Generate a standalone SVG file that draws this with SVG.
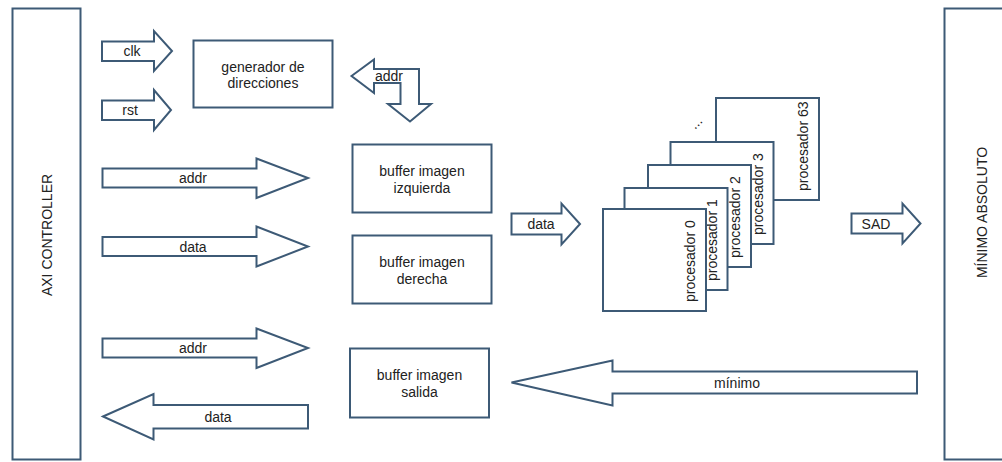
<svg xmlns="http://www.w3.org/2000/svg" width="1002" height="462" viewBox="0 0 1002 462">
  <style>
    .box { fill: #ffffff; stroke: #3d5a76; stroke-width: 2; }
    .arrow { fill: #ffffff; stroke: #3d5a76; stroke-width: 2; stroke-linejoin: miter; }
    text { font-family: "Liberation Sans", Arial, sans-serif; font-size: 14px; fill: #222222; }
    .c { text-anchor: middle; }
  </style>
  <rect x="0" y="0" width="1002" height="462" fill="#ffffff"/>

  <!-- side blocks -->
  <g id="axi-controller">
    <rect class="box" x="12.5" y="8.5" width="68" height="451"/>
    <text class="c" transform="translate(51.5,235) rotate(-90)">AXI CONTROLLER</text>
  </g>
  <g id="minimo-absoluto">
    <rect class="box" x="944.5" y="8.5" width="70" height="451"/>
    <text class="c" transform="translate(986.5,212.5) rotate(-90)">MÍNIMO ABSOLUTO</text>
  </g>

  <!-- functional blocks -->
  <g id="generador">
    <rect class="box" x="193.5" y="40.5" width="139" height="67"/>
    <text class="c" x="263" y="71.5">generador de</text>
    <text class="c" x="263" y="88">direcciones</text>
  </g>
  <g id="buffer-izquierda">
    <rect class="box" x="352.5" y="144.5" width="139" height="68"/>
    <text class="c" x="422" y="176">buffer imagen</text>
    <text class="c" x="422" y="192.5">izquierda</text>
  </g>
  <g id="buffer-derecha">
    <rect class="box" x="352.5" y="235.5" width="139" height="68"/>
    <text class="c" x="422" y="266.5">buffer imagen</text>
    <text class="c" x="422" y="283.5">derecha</text>
  </g>
  <g id="buffer-salida">
    <rect class="box" x="350" y="348.5" width="139" height="69"/>
    <text class="c" x="419.5" y="380">buffer imagen</text>
    <text class="c" x="419.5" y="396.5">salida</text>
  </g>

  <!-- processor stack, back to front -->
  <g id="procesador-63">
    <rect class="box" x="716" y="98" width="103" height="102"/>
    <text transform="translate(807.5,191) rotate(-90)">procesador 63</text>
  </g>
  <text transform="translate(699,126) rotate(-45)" class="c">...</text>
  <g id="procesador-3">
    <rect class="box" x="670.5" y="142" width="103" height="102"/>
    <text transform="translate(762.5,235) rotate(-90)">procesador 3</text>
  </g>
  <g id="procesador-2">
    <rect class="box" x="648" y="165" width="103" height="102"/>
    <text transform="translate(739.5,258) rotate(-90)">procesador 2</text>
  </g>
  <g id="procesador-1">
    <rect class="box" x="624.5" y="188" width="103" height="102"/>
    <text transform="translate(716.5,281) rotate(-90)">procesador 1</text>
  </g>
  <g id="procesador-0">
    <rect class="box" x="603" y="209" width="103" height="102"/>
    <text transform="translate(694.5,302) rotate(-90)">procesador 0</text>
  </g>

  <!-- block arrows -->
  <g id="connectors">
    <path class="arrow" d="M102,41.5 L154,41.5 L154,31 L172,51 L154,71 L154,61 L102,61 Z"/>
    <text class="c" x="132" y="56">clk</text>

    <path class="arrow" d="M102,100.5 L154,100.5 L154,90 L171,110 L154,130 L154,120 L102,120 Z"/>
    <text class="c" x="130" y="115">rst</text>

    <path class="arrow" d="M351.5,76 L374,59.5 L374,69 L419,69 L419,104 L431,104 L410,121.5 L388,104 L400.5,104 L400.5,83 L374,83 L374,93 Z"/>
    <text class="c" x="389" y="81">addr</text>

    <path class="arrow" d="M102.5,168.5 L256.5,168.5 L256.5,158.5 L308,178 L256.5,198 L256.5,187.5 L102.5,187.5 Z"/>
    <text class="c" x="193" y="183">addr</text>

    <path class="arrow" d="M102.5,237 L256.5,237 L256.5,226.5 L308,246.5 L256.5,266.5 L256.5,256 L102.5,256 Z"/>
    <text class="c" x="193" y="251.5">data</text>

    <path class="arrow" d="M102.5,338.5 L256.5,338.5 L256.5,328.5 L308,348 L256.5,368 L256.5,357.5 L102.5,357.5 Z"/>
    <text class="c" x="193" y="353">addr</text>

    <path class="arrow" d="M103,416.5 L153.5,394 L153.5,405 L308,405 L308,428.5 L153.5,428.5 L153.5,439.5 Z"/>
    <text class="c" x="218" y="421.5">data</text>

    <path class="arrow" d="M511.5,213.5 L561.5,213.5 L561.5,203.5 L580,224 L561.5,244.5 L561.5,234.5 L511.5,234.5 Z"/>
    <text class="c" x="541" y="229">data</text>

    <path class="arrow" d="M851.5,213.5 L902.5,213.5 L902.5,203.5 L920.5,223.5 L902.5,243.5 L902.5,233.5 L851.5,233.5 Z"/>
    <text class="c" x="876" y="228.5">SAD</text>

    <path class="arrow" d="M511.5,382.5 L612.5,360.5 L612.5,371.5 L917,371.5 L917,393.5 L612.5,393.5 L612.5,405.5 Z"/>
    <text class="c" x="737" y="387.5">mínimo</text>
  </g>
</svg>
